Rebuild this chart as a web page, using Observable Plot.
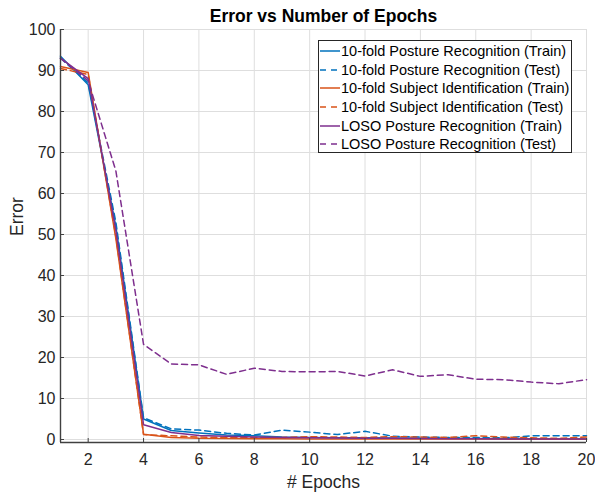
<!DOCTYPE html>
<html>
<head>
<meta charset="utf-8">
<script src="https://cdn.jsdelivr.net/npm/d3@7"></script>
<script src="https://cdn.jsdelivr.net/npm/@observablehq/plot@0.6"></script>
<style>
  html, body { margin: 0; padding: 0; background: #fff; }
  #wrap { position: relative; width: 595px; height: 493px; font-family: "Liberation Sans", Arial, sans-serif; }
  #legend { position: absolute; left: 318px; top: 40px; width: 254px; height: 113px; border: 1px solid #262626; background: #fff; box-sizing: border-box; padding-top: 1px; }
  .row { height: 18.6px; display: flex; align-items: center; font-size: 14.5px; color: #000; white-space: nowrap; }
  .row svg { margin-left: 1px; margin-right: 1px; flex: none; }
</style>
</head>
<body>
<div id="wrap"><div id="legend"></div></div>
<script>
const epochs = [1,2,3,4,5,6,7,8,9,10,11,12,13,14,15,16,17,18,19,20];
const xTicks = [2,4,6,8,10,12,14,16,18,20];
const yTicks = [0,10,20,30,40,50,60,70,80,90,100];

const seriesNames = [
  "10-fold Posture Recognition (Train)",
  "10-fold Posture Recognition (Test)",
  "10-fold Subject Identification (Train)",
  "10-fold Subject Identification (Test)",
  "LOSO Posture Recognition (Train)",
  "LOSO Posture Recognition (Test)"
];
const seriesColors = ["#0072BD", "#0072BD", "#D95319", "#D95319", "#7E2F8E", "#7E2F8E"];
const seriesDashed = [false, true, false, true, false, true];

const pr10Train = [93.5, 86.5, 52, 5.0, 2.2, 1.6, 1.1, 0.9, 0.6, 0.5, 0.45, 0.4, 0.35, 0.3, 0.3, 0.25, 0.2, 0.2, 0.15, 0.15];
const pr10Test  = [93, 87, 53, 5.3, 2.6, 2.3, 1.5, 1.1, 2.3, 1.8, 1.2, 2.0, 0.8, 0.6, 0.5, 0.5, 0.4, 0.9, 0.9, 0.9];
const si10Train = [91, 89.5, 49, 1.3, 0.5, 0.3, 0.25, 0.2, 0.2, 0.15, 0.15, 0.1, 0.1, 0.1, 0.1, 0.1, 0.1, 0.05, 0.05, 0.05];
const si10Test  = [90.5, 89, 49.5, 1.2, 0.9, 0.6, 0.5, 0.5, 0.5, 0.7, 0.6, 0.5, 0.7, 0.6, 0.5, 0.9, 0.6, 0.4, 0.3, 0.6];
const losoTrain = [93, 88, 51, 3.6, 1.7, 1.0, 0.8, 0.6, 0.5, 0.4, 0.35, 0.3, 0.3, 0.25, 0.2, 0.2, 0.15, 0.15, 0.1, 0.1];
const losoTest  = [93, 87.5, 65.5, 23.2, 18.4, 18.2, 15.9, 17.4, 16.6, 16.5, 16.6, 15.5, 17.0, 15.4, 15.8, 14.7, 14.6, 14.0, 13.6, 14.6];

const allSeries = [pr10Train, pr10Test, si10Train, si10Test, losoTrain, losoTest];

const yMin = -0.73, yMax = 100;
const axisColor = "#404040";
const textColor = "#262626";

const lineMarks = allSeries.map((vals, i) =>
  Plot.line(epochs.map((e, j) => ({epoch: e, value: vals[j]})), {
    x: "epoch", y: "value",
    stroke: seriesColors[i],
    strokeWidth: 1.5,
    strokeDasharray: seriesDashed[i] ? "6,4" : null
  })
);

const chart = Plot.plot({
  width: 595,
  height: 493,
  marginTop: 29,
  marginLeft: 60,
  marginRight: 9,
  marginBottom: 51,
  style: { fontFamily: "'Liberation Sans', Arial, sans-serif", background: "#fff", overflow: "visible" },
  x: { domain: [1, 20] },
  y: { domain: [yMin, yMax] },
  marks: [
    Plot.gridX(xTicks, { stroke: "#dedede", strokeOpacity: 1 }),
    Plot.gridY(yTicks, { stroke: "#dedede", strokeOpacity: 1 }),
    ...lineMarks,
    Plot.ruleY([yMin], { stroke: axisColor, strokeWidth: 1.4 }),
    Plot.ruleX([1], { stroke: axisColor, strokeWidth: 1.4 }),
    Plot.axisX({ ticks: xTicks, tickSize: 4, dy: -4, text: null, label: null, stroke: axisColor }),
    Plot.axisX({ ticks: xTicks, tickSize: 0, tickPadding: 11, fontSize: 16, fill: textColor, label: null }),
    Plot.axisY({ ticks: yTicks, tickSize: 4, dx: 4, text: null, label: null, stroke: axisColor }),
    Plot.axisY({ ticks: yTicks, tickSize: 0, tickPadding: 5, fontSize: 16, fill: textColor, label: null }),
    Plot.text(["Error vs Number of Epochs"], { frameAnchor: "top", dy: -20, fontSize: 17.5, fontWeight: "bold", fill: "#000" }),
    Plot.text(["# Epochs"], { frameAnchor: "bottom", dy: 45, fontSize: 17.5, fill: textColor }),
    Plot.text(["Error"], { frameAnchor: "left", dx: -43, rotate: -90, fontSize: 17.5, fill: textColor })
  ]
});

const wrap = document.getElementById("wrap");
wrap.insertBefore(chart, wrap.firstChild);

const legend = document.getElementById("legend");
seriesNames.forEach((name, i) => {
  const row = document.createElement("div");
  row.className = "row";
  const ns = "http://www.w3.org/2000/svg";
  const s = document.createElementNS(ns, "svg");
  s.setAttribute("width", "20");
  s.setAttribute("height", "4");
  const l = document.createElementNS(ns, "line");
  l.setAttribute("x1", "0"); l.setAttribute("x2", "20");
  l.setAttribute("y1", "2"); l.setAttribute("y2", "2");
  l.setAttribute("stroke", seriesColors[i]);
  l.setAttribute("stroke-width", "1.5");
  if (seriesDashed[i]) l.setAttribute("stroke-dasharray", "6,5");
  s.appendChild(l);
  row.appendChild(s);
  const t = document.createElement("span");
  t.textContent = name;
  row.appendChild(t);
  legend.appendChild(row);
});
</script>
</body>
</html>
